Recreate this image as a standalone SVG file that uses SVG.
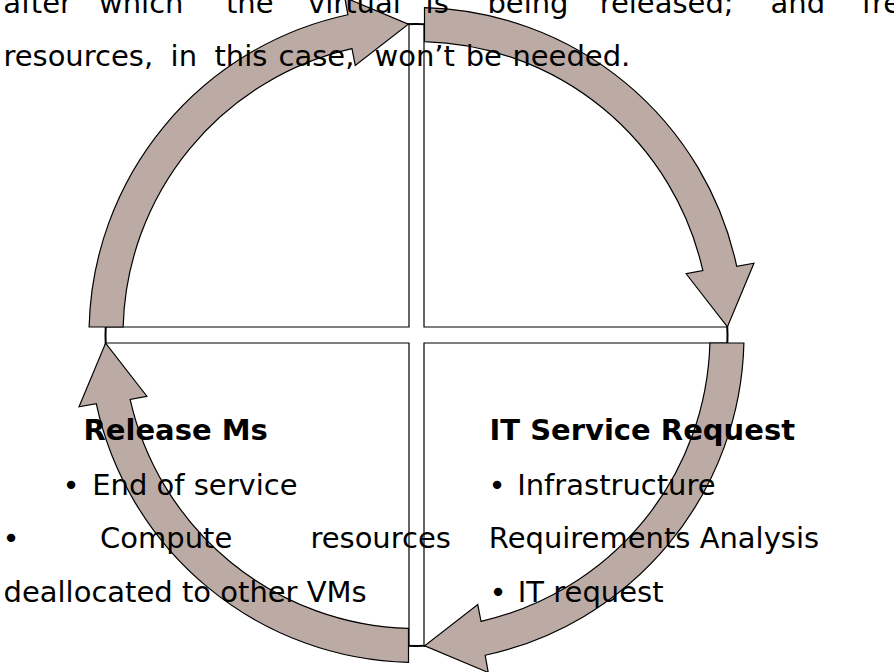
<svg xmlns="http://www.w3.org/2000/svg" width="894" height="672" viewBox="0 0 894 672">
  <style>
    text { font-family: "DejaVu Sans", Verdana, "Liberation Sans", sans-serif; font-size: 29px; fill: #000; }
    .bold { font-weight: bold; }
    .ring { fill: none; stroke: #000; stroke-width: 2; }
    .sector { fill: #fff; stroke: #000; stroke-width: 1.2; }
    .arrow { fill: #BBABA4; stroke: #000; stroke-width: 1.2; stroke-linejoin: miter; }
  </style>
  <defs>
    <!-- curved block arrow for one quarter of the cycle; the other three are rotations about the centre -->
    <path id="cycle-arrow" class="arrow"
          d="M89.1,327 A327.5,327.5 0 0 1 347.85,14.77 L344.77,-2.46 L408.36,24.11 L355.25,65.38 L351.99,48.69 A293.5,293.5 0 0 0 123.1,327 Z"/>
  </defs>

  <rect width="894" height="672" fill="#fff"/>

  <!-- outer ring, visible in the gaps between the quadrants -->
  <circle class="ring" cx="416.5" cy="335" r="311"/>

  <!-- four quadrants -->
  <g id="quadrant-top-left"><path class="sector" d="M409,327 L409,24.1 A311,311 0 0 0 105.6,327 Z"/></g>
  <g id="quadrant-top-right"><path class="sector" d="M424,327 L424,24.1 A311,311 0 0 1 727.4,327 Z"/></g>
  <g id="quadrant-bottom-right"><path class="sector" d="M424,343 L727.4,343 A311,311 0 0 1 424,645.9 Z"/></g>
  <g id="quadrant-bottom-left"><path class="sector" d="M409,343 L409,645.9 A311,311 0 0 1 105.6,343 Z"/></g>

  <!-- clockwise cycle arrows -->
  <g id="connectors">
    <use href="#cycle-arrow"/>
    <use href="#cycle-arrow" transform="rotate(90 416.5 335)"/>
    <use href="#cycle-arrow" transform="rotate(180 416.5 335)"/>
    <use href="#cycle-arrow" transform="rotate(270 416.5 335)"/>
  </g>

  <!-- justified paragraph text running over the top of the cycle -->
  <g id="paragraph">
    <text y="13">
      <tspan x="3.3">after</tspan><tspan x="99">which</tspan><tspan x="226">the</tspan><tspan x="308">virtual</tspan><tspan x="425.6">is</tspan><tspan x="487.4">being</tspan><tspan x="599.7">released;</tspan><tspan x="770.6">and</tspan><tspan x="861.7">fre</tspan>
    </text>
    <text y="65.5">
      <tspan x="3.4">resources,</tspan><tspan x="170.6">in</tspan><tspan x="214.5">this</tspan><tspan x="278.5">case,</tspan><tspan x="374.5">won’t</tspan><tspan x="465.7">be</tspan><tspan x="512.4">needed.</tspan>
    </text>
  </g>

  <!-- release stage text -->
  <g id="release-ms">
    <text class="bold" x="83.5" y="440">Release Ms</text>
    <text y="494.5"><tspan x="62.6">•</tspan><tspan x="92.2">End of service</tspan></text>
    <text y="548"><tspan x="2.6">•</tspan><tspan x="100">Compute</tspan><tspan x="310.4">resources</tspan></text>
    <text x="3.5" y="601.5">deallocated to other VMs</text>
  </g>

  <!-- request stage text -->
  <g id="it-service-request">
    <text class="bold" x="489.5" y="440">IT Service Request</text>
    <text y="494.5"><tspan x="488.6">•</tspan><tspan x="517.2">Infrastructure</tspan></text>
    <text x="488.8" y="548">Requirements Analysis</text>
    <text y="601.5"><tspan x="489.6">•</tspan><tspan x="517.8">IT request</tspan></text>
  </g>
</svg>
